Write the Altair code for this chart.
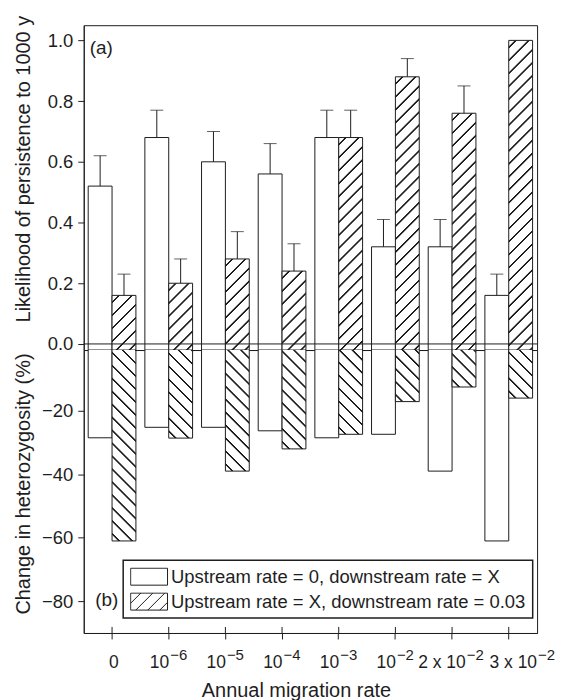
import altair as alt
import pandas as pd

# ---------------- data ----------------
categories = ["0", "10⁻⁶", "10⁻⁵", "10⁻⁴", "10⁻³", "10⁻²", "2 x 10⁻²", "3 x 10⁻²"]
label_base = ["0", "10", "10", "10", "10", "10", "2 x 10", "3 x 10"]
label_exp = ["", "−6", "−5", "−4", "−3", "−2", "−2", "−2"]
series_names = ["Upstream rate = 0, downstream rate = X",
                "Upstream rate = X, downstream rate = 0.03"]

persist_open = [0.52, 0.68, 0.60, 0.56, 0.68, 0.32, 0.32, 0.16]
persist_open_err = [0.62, 0.77, 0.70, 0.66, 0.77, 0.41, 0.41, 0.23]
persist_hatch = [0.16, 0.20, 0.28, 0.24, 0.68, 0.88, 0.76, 1.00]
persist_hatch_err = [0.23, 0.28, 0.37, 0.33, 0.77, 0.94, 0.85, None]

het_open = [-28.5, -25.2, -25.2, -26.3, -28.5, -27.4, -39.0, -61.0]
het_hatch = [-61.0, -28.6, -39.0, -32.0, -27.4, -17.1, -12.5, -16.0]

# ---------------- styling / layout ----------------
INK = "#1e1e1e"
FONT = "Liberation Sans"
W_PLOT = 455
H_TOP = 326
H_BOT = 284
TOP_DOM = [-0.02, 1.05]
BOT_DOM = [-90, -0.85]
PAD_IN = 0.158
PAD_OUT = 0.079
label_shift = [1.7, 0.5, 0.5, 0.5, 0.5, 0.5, 13.7, 28.4]   # horizontal nudge of tick labels

step = W_PLOT / (len(categories) - PAD_IN + 2 * PAD_OUT)
bar_w = step * (1 - PAD_IN) / 2
top_ppu = H_TOP / (TOP_DOM[1] - TOP_DOM[0])
bot_ppu = H_BOT / (BOT_DOM[1] - BOT_DOM[0])


def hatch_fill(w, h, kind, period=13.0, lw=1.5):
    """Linear gradient (bounding-box units) that draws 45 degree hatching."""
    L = w + h
    k = h * L / (w * w + h * h)
    if kind == "/":
        x1, y1, x2, y2 = 0.0, 0.0, k * w / h, k
    else:
        x1, y1, x2, y2 = 0.0, 1.0, k * w / h, 1.0 - k
    e = 0.7 / L
    stops = [(0.0, "white")]
    c = period * 0.55
    while c + lw / 2 + 0.7 < L:
        a = (c - lw / 2) / L
        b = (c + lw / 2) / L
        stops += [(a - e, "white"), (a, INK), (b, INK), (b + e, "white")]
        c += period
    stops.append((1.0, "white"))
    return {"gradient": "linear", "x1": round(x1, 5), "y1": round(y1, 5),
            "x2": round(x2, 5), "y2": round(y2, 5),
            "stops": [{"offset": round(o, 5), "color": col} for o, col in stops]}


# ---------------- tables ----------------
top_rows, bot_rows = [], []
for i, c in enumerate(categories):
    top_rows.append(dict(cat=c, s="W", key=f"W{i}", v=persist_open[i], err=persist_open_err[i]))
    top_rows.append(dict(cat=c, s="H", key=f"H{i}", v=persist_hatch[i], err=persist_hatch_err[i]))
    bot_rows.append(dict(cat=c, s="W", series=series_names[0], key=f"W{i}", v=het_open[i]))
    bot_rows.append(dict(cat=c, s="H", series=series_names[1], key=f"H{i}", v=het_hatch[i]))
top_df = pd.DataFrame(top_rows)
bot_df = pd.DataFrame(bot_rows)
lab_df = pd.DataFrame({"cat": categories, "base": label_base, "exp": label_exp,
                       "shift": label_shift})

top_fill = {"condition": [
    {"test": f"datum.key === 'H{i}'",
     "value": hatch_fill(bar_w, (v - TOP_DOM[0]) * top_ppu, "/")}
    for i, v in enumerate(persist_hatch)], "value": "white"}
bot_fill = {"condition": [
    {"test": f"datum.key === 'H{i}'",
     "value": hatch_fill(bar_w, (0 - v) * bot_ppu, "\\")}
    for i, v in enumerate(het_hatch)], "value": "white"}

xscale = alt.Scale(paddingInner=PAD_IN, paddingOuter=PAD_OUT)
xoff = alt.XOffset("s:N", sort=["W", "H"], scale=alt.Scale(paddingInner=0, paddingOuter=0))
xcat = alt.X("cat:N", sort=categories)

# ---------------- top panel ----------------
x_top = alt.X("cat:N", sort=categories, scale=xscale, axis=None)
y_top = alt.Y("v:Q", scale=alt.Scale(domain=TOP_DOM, nice=False, zero=False),
              axis=alt.Axis(values=[0, 0.2, 0.4, 0.6, 0.8, 1.0], format=".1f",
                            title="Likelihood of persistence to 1000 y",
                            tickSize=6, labelPadding=5, grid=False,
                            titleX=-50, titleY=144, titleBaseline="bottom"))

top_base = alt.Chart(top_df)
top_bars = top_base.mark_bar(stroke=INK, strokeWidth=1, clip=True).encode(
    x=x_top, xOffset=xoff, y=y_top, y2=alt.datum(TOP_DOM[0]), fill=top_fill)
err_rule = top_base.transform_filter("isValid(datum.err)").mark_rule(
    color=INK, strokeWidth=1).encode(x=xcat, xOffset=xoff, y="v:Q", y2="err:Q")
err_cap = top_base.transform_filter("isValid(datum.err)").mark_tick(
    color=INK, thickness=1, size=13, orient="horizontal").encode(
    x=xcat, xOffset=xoff, y="err:Q")
zero_line = alt.Chart(pd.DataFrame({"z": [0.0]})).mark_rule(
    color=INK, strokeWidth=1).encode(y="z:Q")
label_a = alt.Chart(pd.DataFrame({"t": ["(a)"]})).mark_text(
    align="left", baseline="middle", fontSize=19, font=FONT, color=INK).encode(
    text="t:N", x=alt.value(6), y=alt.value(23))

top = alt.layer(top_bars, err_rule, err_cap, zero_line, label_a).properties(
    width=W_PLOT, height=H_TOP)

# ---------------- bottom panel ----------------
x_bot = alt.X("cat:N", sort=categories, scale=xscale,
              axis=alt.Axis(title="Annual migration rate", labels=False, tickSize=6,
                            titleX=213, titleY=48, titleBaseline="top"))
y_bot = alt.Y("v:Q", scale=alt.Scale(domain=BOT_DOM, nice=False, zero=False),
              axis=alt.Axis(values=[-20, -40, -60, -80], title="Change in heterozygosity (%)",
                            tickSize=6, labelPadding=5, grid=False,
                            titleX=-50, titleY=134, titleBaseline="bottom"))

bot_base = alt.Chart(bot_df)
bot_bars = bot_base.mark_bar(stroke=INK, strokeWidth=1, clip=True).encode(
    x=x_bot, xOffset=xoff, y=y_bot, y2=alt.datum(0), fill=bot_fill)

# legend swatches as custom symbol paths (unit square -1..1)
HH = 0.46
box = f"M-1,{-HH}H1V{HH}H-1Z"
segs = []
cc = -1 - HH + 0.55
while cc < 1 + HH - 0.1:
    xa = max(-1.0, cc - HH)
    xb = min(1.0, cc + HH)
    if xb - xa > 0.05:
        segs.append(f"M{xa:.3f},{cc - xa:.3f}L{xb:.3f},{cc - xb:.3f}")
    cc += 0.65
path_open = box
path_hatch = box + "".join(segs)

legend_pts = bot_base.mark_point(filled=False, color=INK, strokeWidth=1, opacity=1,
                                 clip=True).encode(
    x=xcat, xOffset=xoff, y=alt.datum(60),
    shape=alt.Shape("series:N",
                    scale=alt.Scale(domain=series_names, range=[path_open, path_hatch]),
                    legend=alt.Legend(title=None, orient="none", legendX=39.6,
                                      legendY=H_TOP + 211,
                                      symbolSize=1369, symbolStrokeWidth=1,
                                      labelFontSize=18.5, labelFont=FONT,
                                      labelColor=INK, labelLimit=600, labelOffset=3,
                                      clipHeight=19, padding=7, rowPadding=6,
                                      strokeColor=INK, fillColor="white")))

inner_ticks = alt.Chart(pd.DataFrame({"cat": categories})).mark_rule(
    color=INK, strokeWidth=1).encode(
    x=xcat, y=alt.datum(BOT_DOM[0]), y2=alt.datum(BOT_DOM[0] + 1.9))

# tick labels with raised exponents
lab_layers = []
for s in sorted(set(label_shift)):
    cats_s = [c for c, sh in zip(categories, label_shift) if sh == s]
    sub = alt.Chart(lab_df).transform_filter(alt.FieldOneOfPredicate(field="cat", oneOf=cats_s))
    has_exp = any(e for c, e, sh in zip(categories, label_exp, label_shift) if sh == s)
    lab_layers.append(sub.mark_text(
        align="right" if has_exp else "center", baseline="alphabetic", dx=s,
        fontSize=17.5, font=FONT, color=INK).encode(
        x=xcat, y=alt.value(H_BOT + 34.7), text="base:N"))
    if has_exp:
        lab_layers.append(sub.mark_text(
            align="left", baseline="alphabetic", dx=s + 1,
            fontSize=15, font=FONT, color=INK).encode(
            x=xcat, y=alt.value(H_BOT + 27.2), text="exp:N"))

label_b = alt.Chart(pd.DataFrame({"t": ["(b)"]})).mark_text(
    align="left", baseline="middle", fontSize=19, font=FONT, color=INK).encode(
    text="t:N", x=alt.value(11.6), y=alt.value(251))

bottom = alt.layer(bot_bars, legend_pts, inner_ticks, label_b, *lab_layers).properties(
    width=W_PLOT, height=H_BOT)

chart = alt.vconcat(top, bottom, spacing=0, bounds="flush").properties(
    padding={"left": 5, "top": 5, "right": 0, "bottom": 0}
).configure_view(stroke=INK, strokeWidth=1).configure_axis(
    labelFont=FONT, titleFont=FONT, labelFontSize=18.5, titleFontSize=20,
    labelColor=INK, titleColor=INK, domainColor=INK, tickColor=INK,
    titleFontWeight="normal", domainWidth=1, tickWidth=1
).configure_legend(strokeWidth=1.5)

chart.save("out.html", embed_options={"renderer": "svg", "actions": False})
